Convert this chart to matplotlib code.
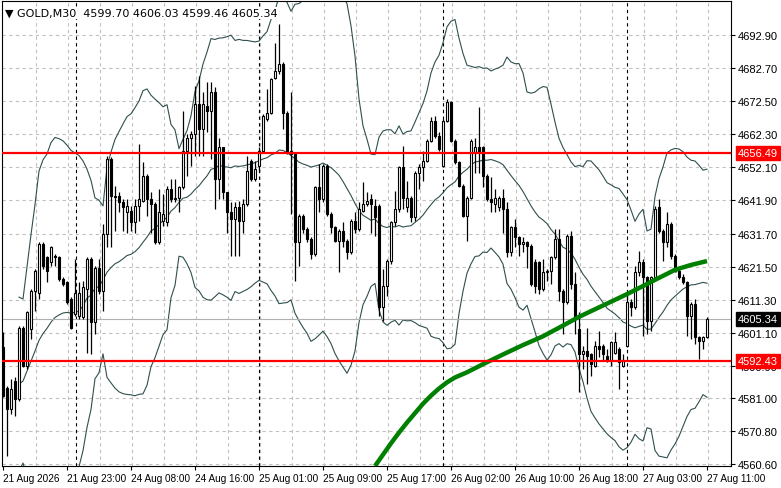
import numpy as np
import pandas as pd
import matplotlib
matplotlib.use("Agg")
import matplotlib.pyplot as plt

plt.rcParams['font.family'] = ['Liberation Sans', 'DejaVu Sans']

# GOLD M30 candles (open, high, low, close)
opens = [4596.6, 4584.2, 4577.6, 4586.3, 4580.6, 4602.7, 4590.9, 4602.2, 4614.1, 4613.5,
         4628.5, 4624.3, 4622.8, 4624.8, 4624.3, 4617.6, 4616.6, 4611.5, 4606.9, 4606.3,
         4605.8, 4614.6, 4623.8, 4604.3, 4621.2, 4614.1, 4631.5, 4654.7, 4643.3, 4643.3,
         4641.3, 4638.2, 4638.7, 4635.1, 4640.3, 4641.8, 4649.5, 4642.3, 4640.8, 4629.0,
         4635.6, 4635.1, 4645.4, 4642.3, 4642.8, 4645.9, 4657.2, 4661.3, 4662.4, 4671.6,
         4663.9, 4671.1, 4669.6, 4675.2, 4648.5, 4658.3, 4644.4, 4638.2, 4636.1, 4639.8,
         4635.6, 4640.8, 4654.1, 4648.5, 4652.6, 4657.2, 4667.0, 4669.0, 4679.8, 4681.9,
         4684.0, 4669.0, 4657.2, 4656.2, 4629.0, 4637.2, 4633.1, 4630.0, 4625.4, 4645.9,
         4642.3, 4652.6, 4637.7, 4633.6, 4629.5, 4632.6, 4629.5, 4625.9, 4635.6, 4633.1,
         4638.7, 4640.8, 4642.3, 4640.3, 4640.3, 4608.9, 4615.6, 4623.3, 4635.1, 4639.2,
         4652.1, 4639.8, 4642.8, 4636.7, 4650.5, 4652.1, 4654.1, 4660.3, 4666.5, 4661.9,
         4652.6, 4666.5, 4672.1, 4660.3, 4653.6, 4646.4, 4637.2, 4642.8, 4656.7, 4658.3,
         4658.3, 4649.5, 4642.3, 4640.8, 4639.8, 4642.8, 4639.2, 4625.9, 4633.6, 4630.5,
         4628.5, 4629.0, 4627.9, 4622.8, 4622.8, 4614.6, 4619.7, 4620.2, 4624.3, 4630.0,
         4614.1, 4610.5, 4631.0, 4616.1, 4602.2, 4594.5, 4595.5, 4594.5, 4590.9, 4597.1,
         4597.1, 4594.0, 4592.5, 4595.0, 4596.1, 4590.9, 4597.1, 4610.5, 4608.9, 4619.7,
         4622.8, 4618.2, 4604.8, 4618.2, 4639.8, 4632.6, 4629.0, 4634.6, 4624.8, 4620.2,
         4618.2, 4616.6, 4606.3, 4609.9, 4599.7, 4598.6, 4599.70]
highs = [4601.2, 4584.7, 4586.8, 4587.3, 4603.3, 4603.3, 4607.9, 4614.6, 4620.7, 4629.0,
         4629.0, 4624.8, 4627.9, 4625.4, 4624.8, 4618.2, 4617.1, 4612.0, 4623.8, 4616.6,
         4617.1, 4624.3, 4624.3, 4621.8, 4623.8, 4634.6, 4655.7, 4655.2, 4646.4, 4644.4,
         4642.3, 4642.3, 4640.3, 4642.3, 4659.3, 4653.6, 4650.0, 4644.4, 4641.3, 4645.4,
         4643.9, 4646.4, 4648.5, 4648.5, 4646.4, 4669.6, 4662.4, 4663.4, 4677.3, 4680.4,
         4675.2, 4678.3, 4678.3, 4676.8, 4661.3, 4658.3, 4644.4, 4641.3, 4641.3, 4641.8,
         4642.3, 4655.7, 4654.7, 4654.1, 4658.3, 4668.5, 4676.2, 4679.8, 4690.6, 4696.3,
         4684.5, 4669.6, 4675.2, 4656.7, 4637.7, 4637.7, 4633.6, 4630.5, 4646.4, 4653.1,
         4653.1, 4653.1, 4638.2, 4634.1, 4633.1, 4635.1, 4630.0, 4636.2, 4638.2, 4641.3,
         4647.5, 4644.4, 4643.9, 4642.3, 4640.8, 4620.7, 4623.8, 4635.6, 4644.9, 4652.6,
         4658.8, 4648.0, 4643.3, 4651.1, 4653.1, 4657.2, 4660.8, 4667.5, 4668.0, 4662.9,
         4667.0, 4673.2, 4672.6, 4660.8, 4654.1, 4646.9, 4643.3, 4660.8, 4661.3, 4670.6,
         4658.8, 4650.0, 4649.0, 4645.4, 4643.3, 4645.4, 4641.3, 4634.1, 4636.2, 4631.0,
         4630.5, 4629.5, 4628.4, 4623.8, 4623.3, 4623.8, 4620.7, 4624.8, 4633.1, 4633.1,
         4614.6, 4631.5, 4632.6, 4619.7, 4607.4, 4597.1, 4602.7, 4595.0, 4598.6, 4601.7,
         4597.6, 4596.1, 4598.6, 4601.2, 4596.6, 4594.5, 4613.5, 4611.5, 4621.8, 4626.4,
         4623.8, 4618.7, 4618.7, 4640.3, 4642.3, 4633.1, 4638.2, 4635.1, 4625.4, 4620.7,
         4619.2, 4617.1, 4610.5, 4611.5, 4600.2, 4600.2, 4606.03]
lows = [4581.2, 4563.2, 4576.0, 4575.5, 4580.1, 4590.4, 4589.9, 4599.1, 4607.9, 4611.5,
        4620.7, 4616.6, 4621.8, 4621.8, 4617.1, 4615.6, 4610.0, 4602.2, 4606.3, 4605.3,
        4605.3, 4595.0, 4594.5, 4600.7, 4613.0, 4607.9, 4627.4, 4627.4, 4632.6, 4638.2,
        4632.6, 4632.0, 4632.6, 4632.0, 4635.6, 4641.3, 4637.2, 4632.0, 4628.5, 4628.5,
        4634.1, 4634.1, 4641.3, 4641.3, 4638.2, 4645.4, 4649.5, 4652.6, 4655.7, 4655.7,
        4655.7, 4662.9, 4654.7, 4639.2, 4642.3, 4642.3, 4632.0, 4624.8, 4624.8, 4624.8,
        4632.0, 4640.3, 4648.0, 4648.0, 4651.1, 4656.7, 4666.5, 4668.5, 4679.3, 4680.9,
        4663.9, 4656.2, 4637.7, 4617.1, 4621.8, 4632.0, 4629.0, 4623.8, 4624.8, 4638.2,
        4641.3, 4637.2, 4632.0, 4629.0, 4619.7, 4627.4, 4623.8, 4625.4, 4632.0, 4632.6,
        4638.2, 4640.3, 4632.0, 4631.0, 4606.3, 4604.8, 4612.5, 4622.3, 4634.1, 4638.2,
        4639.2, 4638.2, 4635.1, 4635.6, 4645.4, 4648.0, 4653.6, 4659.8, 4661.3, 4657.2,
        4652.1, 4666.0, 4659.8, 4653.1, 4645.9, 4636.7, 4629.5, 4642.3, 4650.5, 4650.5,
        4645.9, 4641.8, 4638.2, 4638.2, 4638.7, 4632.0, 4624.3, 4624.8, 4627.4, 4624.8,
        4625.9, 4621.2, 4615.6, 4613.5, 4613.0, 4614.1, 4617.1, 4616.1, 4623.8, 4611.0,
        4600.7, 4610.0, 4614.6, 4600.7, 4582.7, 4589.9, 4585.3, 4587.8, 4590.4, 4593.5,
        4592.5, 4592.0, 4590.9, 4594.5, 4583.7, 4590.4, 4596.6, 4606.3, 4608.4, 4618.7,
        4600.2, 4600.7, 4601.7, 4617.6, 4632.0, 4623.3, 4627.4, 4623.8, 4619.7, 4617.6,
        4616.1, 4600.2, 4599.1, 4597.6, 4593.0, 4596.1, 4599.46]
closes = [4581.7, 4577.6, 4583.7, 4580.6, 4602.7, 4590.9, 4607.4, 4614.1, 4620.2, 4628.5,
          4621.8, 4620.2, 4627.4, 4624.3, 4617.6, 4616.1, 4610.5, 4602.7, 4613.5, 4613.5,
          4615.1, 4623.8, 4604.3, 4621.2, 4614.1, 4631.5, 4654.7, 4643.3, 4643.1, 4641.3,
          4639.8, 4640.3, 4635.1, 4640.3, 4642.3, 4649.5, 4642.3, 4640.8, 4629.0, 4638.2,
          4637.7, 4645.4, 4642.3, 4642.8, 4645.9, 4657.2, 4661.3, 4662.4, 4671.6, 4663.9,
          4671.6, 4669.6, 4675.2, 4648.5, 4658.3, 4644.4, 4638.2, 4636.1, 4639.8, 4635.6,
          4640.8, 4651.1, 4648.5, 4651.6, 4657.2, 4668.0, 4669.0, 4679.3, 4681.9, 4684.0,
          4669.0, 4657.2, 4656.2, 4629.0, 4637.2, 4633.1, 4630.0, 4625.4, 4645.9, 4642.3,
          4652.6, 4637.7, 4633.6, 4629.5, 4632.6, 4629.5, 4625.9, 4635.6, 4633.1, 4639.2,
          4640.8, 4641.8, 4640.8, 4636.7, 4608.9, 4615.6, 4623.3, 4635.1, 4639.2, 4652.1,
          4642.8, 4642.8, 4636.7, 4650.5, 4652.1, 4654.1, 4660.3, 4666.5, 4661.9, 4657.7,
          4666.5, 4672.1, 4660.3, 4653.6, 4646.4, 4637.2, 4642.8, 4660.3, 4658.3, 4656.7,
          4649.5, 4642.3, 4641.3, 4642.8, 4642.8, 4639.2, 4625.9, 4633.6, 4630.5, 4628.5,
          4629.0, 4627.9, 4616.1, 4615.6, 4614.6, 4619.7, 4620.2, 4624.3, 4630.0, 4614.1,
          4610.5, 4631.0, 4616.1, 4605.3, 4594.5, 4595.5, 4594.0, 4591.4, 4597.1, 4596.1,
          4594.5, 4592.5, 4598.1, 4598.1, 4592.0, 4592.5, 4610.5, 4608.9, 4619.7, 4622.8,
          4618.2, 4604.8, 4618.2, 4639.2, 4632.6, 4629.0, 4634.6, 4624.8, 4620.2, 4618.2,
          4616.6, 4606.3, 4609.9, 4599.7, 4598.6, 4599.7, 4605.34]

# slow moving average (green), read at selected bars
ma_bars = [93, 95, 97, 99, 101, 103, 105, 107, 109, 111, 113, 116, 120, 125, 130,
           135, 140, 144, 150, 156, 160, 163, 168, 172, 176]
ma_vals = [4560.0, 4563.5, 4567.0, 4570.3, 4573.4, 4576.3, 4579.2, 4581.7, 4583.9, 4585.8,
           4587.3, 4588.9, 4591.4, 4594.4, 4597.3, 4600.0, 4603.3, 4606.0, 4609.5, 4613.0,
           4615.5, 4617.4, 4620.5, 4622.0, 4623.2]

resistance = 4656.49
support = 4592.43
last_price = 4605.34

price_ticks = [4692.90, 4682.70, 4672.50, 4662.30, 4652.10, 4641.90, 4631.70, 4621.50,
               4611.30, 4601.10, 4590.90, 4581.00, 4570.80, 4560.60]
time_labels = ["21 Aug 2026", "21 Aug 23:00", "24 Aug 08:00", "24 Aug 16:00",
               "25 Aug 01:00", "25 Aug 09:00", "25 Aug 17:00", "26 Aug 02:00",
               "26 Aug 10:00", "26 Aug 18:00", "27 Aug 03:00", "27 Aug 11:00"]
time_label_bars = [0, 16, 32, 48, 64, 80, 96, 112, 128, 144, 160, 176]
day_breaks = [18.25, 64, 110, 156]

o = np.array(opens); h = np.array(highs); l = np.array(lows); c = np.array(closes)
x = np.arange(len(c))

fig = plt.figure(figsize=(7.81, 4.89), dpi=100)
ax = fig.add_axes([2 / 781, 22 / 489, 729 / 781, 465 / 489])
ax.set_xlim(-0.25, 182)
ax.set_ylim(4560.0, 4703.4)

# grid
for gx in np.arange(8.25, 182, 8):
    ax.axvline(gx, color="#c0c0c0", lw=0.8, ls=(0, (3, 3)), zorder=0)
for t in price_ticks:
    ax.axhline(t, color="#c0c0c0", lw=0.8, ls=(0, (3, 3)), zorder=0)
for d in day_breaks:
    ax.axvline(d, color="black", lw=0.8, ls=(0, (3, 3)), zorder=0.5)

# bollinger bands (20, 3)
s = pd.Series(c)
mid = s.rolling(20, min_periods=5).mean()
sd = s.rolling(20, min_periods=5).std(ddof=0)
for band in (mid, mid + 3 * sd, mid - 3 * sd):
    ax.plot(x, band, color="#2f4f4f", lw=0.8, zorder=1)

# candles
up = c >= o
ax.vlines(x, l, h, color="black", lw=0.9, zorder=2)
body_h = np.where(np.abs(c - o) < 0.2, 0.2, np.abs(c - o))
ax.bar(x[up], body_h[up], bottom=np.minimum(o, c)[up], width=0.7,
       color="white", edgecolor="black", lw=0.8, zorder=3)
ax.bar(x[~up], body_h[~up], bottom=np.minimum(o, c)[~up], width=0.7,
       color="black", edgecolor="black", lw=0.8, zorder=3)

ax.plot(ma_bars, ma_vals, color="#008000", lw=3.2, zorder=4, solid_capstyle="butt")

ax.axhline(last_price, color="#b0b0b0", lw=0.8, zorder=1)
ax.axhline(resistance, color="red", lw=1.6, zorder=5)
ax.axhline(support, color="red", lw=1.6, zorder=5)

# axes styling
ax.yaxis.tick_right()
ax.set_yticks(price_ticks)
ax.set_yticklabels([f"{t:.2f}" for t in price_ticks])
ax.set_xticks(time_label_bars)
ax.set_xticklabels(time_labels, ha="left")
ax.tick_params(axis="y", labelsize=8, length=3, width=0.8, pad=2, colors="black")
ax.tick_params(axis="x", labelsize=7.2, length=3, width=0.8, pad=2, colors="black")
for sp in ax.spines.values():
    sp.set_linewidth(0.8)

# price labels on right axis
for val, bg, fg in [(resistance, "red", "white"), (support, "red", "white"),
                    (last_price, "black", "white")]:
    ax.annotate(f"{val:.2f}", xy=(1.0, val), xycoords=("axes fraction", "data"),
                xytext=(5, 0), textcoords="offset points", va="center", ha="left",
                fontsize=8, color=fg, zorder=10,
                bbox=dict(boxstyle="square,pad=0.2", fc=bg, ec=bg))

ax.text(0.004, 0.985, "\u25bc GOLD,M30  4599.70 4606.03 4599.46 4605.34",
        transform=ax.transAxes, fontsize=8, va="top", ha="left", color="black",
        family=["DejaVu Sans"], bbox=dict(fc="white", ec="none", pad=1), zorder=10)

fig.savefig("out.png", dpi=100, facecolor="white")
